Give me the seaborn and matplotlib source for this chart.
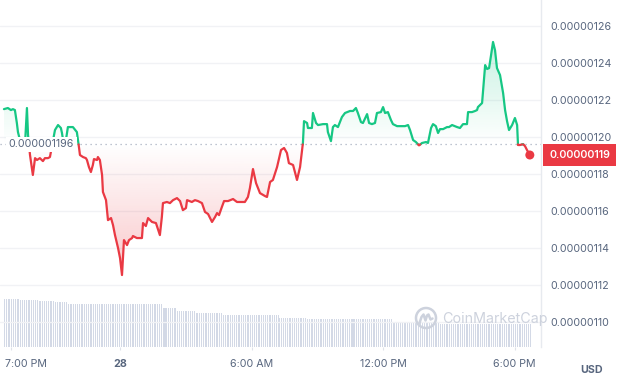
import numpy as np
import pandas as pd
import matplotlib
matplotlib.use("Agg")
import matplotlib.pyplot as plt
import matplotlib.transforms as mtransforms
from matplotlib.path import Path
from matplotlib.patches import Circle
from matplotlib.lines import Line2D
import seaborn as sns

# ---------------- data (price in units of 1e-8 USD, time in hours from midnight of the 27th) ----
hours = [18.68, 18.86, 19.00, 19.09, 19.18, 19.27, 19.32, 19.41, 19.55, 19.64, 19.73, 19.78, 19.87, 20.00,
         20.10, 20.19, 20.32, 20.46, 20.55, 20.69, 20.78, 21.01, 21.15, 21.28, 21.33, 21.42, 21.51, 21.60,
         21.83, 22.01, 22.11, 22.15, 22.29, 22.42, 22.47, 22.56, 22.65, 22.74, 22.79, 22.93, 22.97, 23.06,
         23.16, 23.20, 23.34, 23.43, 23.57, 23.66, 23.75, 23.89, 23.98, 24.07, 24.16, 24.30, 24.39, 24.53,
         24.57, 24.75, 24.98, 25.03, 25.16, 25.26, 25.44, 25.62, 25.80, 25.89, 25.94, 26.12, 26.26, 26.40,
         26.58, 26.72, 26.85, 26.99, 27.04, 27.26, 27.40, 27.54, 27.72, 27.86, 28.00, 28.18, 28.32, 28.41,
         28.50, 28.63, 28.73, 28.91, 29.14, 29.32, 29.68, 29.82, 29.91, 30.05, 30.19, 30.37, 30.60, 30.69,
         30.83, 30.96, 31.15, 31.33, 31.47, 31.60, 31.69, 31.88, 32.06, 32.20, 32.33, 32.38, 32.52, 32.56,
         32.74, 32.79, 32.93, 33.02, 33.25, 33.43, 33.47, 33.61, 33.70, 33.79, 33.93, 34.11, 34.25, 34.48,
         34.62, 34.75, 34.84, 34.98, 35.07, 35.26, 35.35, 35.48, 35.62, 35.71, 35.89, 35.99, 36.08, 36.21,
         36.35, 36.44, 36.63, 36.76, 36.99, 37.13, 37.22, 37.36, 37.49, 37.63, 37.77, 37.95, 38.04, 38.18,
         38.27, 38.40, 38.50, 38.59, 38.73, 38.91, 39.00, 39.14, 39.37, 39.50, 39.64, 39.82, 39.87, 40.05,
         40.19, 40.28, 40.32, 40.51, 40.65, 40.74, 40.83, 40.92, 41.01, 41.10, 41.19, 41.33, 41.47, 41.56,
         41.65, 41.74, 41.88, 42.01, 42.11, 42.15, 42.24, 42.38, 42.47, 42.56, 42.69]
price_e8 = [121.51, 121.57, 121.46, 121.51, 121.46, 120.76, 120.27, 119.84, 119.30, 119.57, 121.57, 120.11, 119.03, 117.95,
            118.86, 118.76, 118.86, 118.70, 118.86, 118.86, 118.92, 120.38, 120.65, 120.49, 120.22, 119.51, 119.84, 120.54,
            120.54, 120.27, 119.41, 119.03, 118.92, 118.86, 118.76, 118.38, 118.11, 118.49, 118.81, 118.76, 118.92, 118.76,
            117.95, 117.03, 116.59, 115.51, 115.62, 115.24, 114.70, 114.00, 113.46, 112.54, 114.43, 114.16, 114.43, 114.54,
            114.65, 114.54, 114.54, 115.35, 115.19, 115.62, 115.41, 115.35, 114.70, 115.68, 116.43, 116.49, 116.43, 116.59,
            116.70, 116.54, 116.05, 116.16, 116.59, 116.49, 116.59, 116.54, 116.43, 115.95, 115.84, 115.41, 115.68, 115.89,
            115.78, 116.22, 116.54, 116.54, 116.65, 116.49, 116.49, 116.76, 117.24, 118.27, 117.51, 116.97, 116.81, 116.76,
            117.57, 117.68, 118.38, 119.30, 119.41, 119.14, 118.59, 118.49, 117.68, 118.38, 119.68, 120.86, 120.76, 120.49,
            120.49, 121.30, 120.76, 120.65, 120.70, 120.70, 120.27, 119.78, 120.54, 120.65, 120.54, 121.08, 121.30, 121.41,
            121.41, 121.57, 121.30, 120.81, 120.76, 121.24, 120.76, 120.70, 120.76, 121.30, 121.35, 121.62, 121.30, 121.35,
            120.92, 120.70, 120.59, 120.59, 120.59, 120.65, 120.38, 119.84, 119.73, 119.55, 119.68, 119.73, 119.68, 120.49,
            120.70, 120.59, 120.22, 120.43, 120.43, 120.54, 120.54, 120.65, 120.54, 120.49, 120.70, 120.70, 121.35, 121.35,
            121.41, 121.46, 121.62, 121.84, 123.89, 123.68, 123.73, 124.43, 125.14, 124.70, 123.73, 123.35, 122.38, 121.46,
            120.86, 120.38, 120.65, 121.03, 120.65, 119.57, 119.57, 119.62, 119.51, 119.30, 119.03]
baseline_e8 = 119.6
baseline_label = "0.000001196"
last_label = "0.00000119"

# 24h volume (arbitrary units, millions USD), step levels and the hour each step starts
vol_step_start = [18.60, 19.37, 20.28, 20.96, 21.60, 22.93, 24.21, 25.94, 26.58, 27.40, 28.68, 31.28, 32.52, 36.40, 38.59]
vol_levels     = [4.80, 4.70, 4.60, 4.50, 4.35, 4.30, 4.35, 3.90, 3.60, 3.40, 3.20, 2.95, 2.80, 2.45, 2.35]

ytick_vals = [110, 112, 114, 116, 118, 120, 122, 124, 126]
ytick_labels = ["0.00000110", "0.00000112", "0.00000114", "0.00000116", "0.00000118",
                "0.00000120", "0.00000122", "0.00000124", "0.00000126"]
xtick_pos = [19, 24, 30, 36, 42]
xtick_labels = ["7:00 PM", "28", "6:00 AM", "12:00 PM", "6:00 PM"]

# ---------------- style ----------------
GREEN = "#16c784"
RED = "#ea3943"
GRAY = "#58667e"
sns.set_theme(style="white")
plt.rcParams["font.family"] = ["Inter", "DejaVu Sans"]

W, H = 624, 381
fig = plt.figure(figsize=(W / 100, H / 100), dpi=100)
rect = [0 / W, (H - 347) / H, 541 / W, 347 / H]

ax_v = fig.add_axes(rect, zorder=0)
ax = fig.add_axes(rect, zorder=1, sharex=ax_v)
ax.patch.set_alpha(0)

XMIN, XMAX = 18.50, 43.20
YMIN, YMAX = 108.65, 127.41

# ---------------- volume bars (5-minute bars) ----------------
vol_t = 18.70 + np.arange(289) / 12.0
idx = np.searchsorted(vol_step_start, vol_t, side="right") - 1
vol_h = np.array(vol_levels)[np.clip(idx, 0, len(vol_levels) - 1)]
sns.barplot(x=vol_t, y=vol_h, native_scale=True, width=0.55, color="#d3d9e6",
            edgecolor="none", linewidth=0, saturation=1, errorbar=None, ax=ax_v)
ax_v.set_ylim(0, 5.0 * 347 / 50)
ax_v.set_axis_off()

# ---------------- gradient fills ----------------
t = np.array(hours)
p = np.array(price_e8)
base = baseline_e8


def gradient_fill(above, color, extreme, amax):
    where = p >= base if above else p <= base
    coll = ax.fill_between(t, p, base, where=where, interpolate=True,
                           facecolor="none", edgecolor="none")
    comp = Path.make_compound_path(*coll.get_paths())
    n = 256
    rgba = np.zeros((n, 1, 4))
    rgba[..., :3] = matplotlib.colors.to_rgb(color)
    if above:
        y0, y1 = base, extreme
        rgba[:, 0, 3] = np.linspace(0.0, amax, n)
    else:
        y0, y1 = extreme, base
        rgba[:, 0, 3] = np.linspace(amax, 0.0, n)
    im = ax.imshow(rgba, extent=[t.min(), t.max(), y0, y1], origin="lower",
                   aspect="auto", zorder=2, interpolation="bilinear")
    im.set_clip_path(comp, ax.transData)


gradient_fill(True, GREEN, p.max(), 0.24)
gradient_fill(False, RED, p.min(), 0.28)

# ---------------- two-coloured price line ----------------
rows = []
seg = 0
side = p[0] >= base
cur = [(t[0], p[0])]
for i in range(1, len(t)):
    s = p[i] >= base
    if s != side:
        tc = t[i - 1] + (base - p[i - 1]) * (t[i] - t[i - 1]) / (p[i] - p[i - 1])
        cur.append((tc, base))
        rows += [(a, b, "up" if side else "down", seg) for a, b in cur]
        seg += 1
        cur = [(tc, base)]
        side = s
    cur.append((t[i], p[i]))
rows += [(a, b, "up" if side else "down", seg) for a, b in cur]
df = pd.DataFrame(rows, columns=["t", "p", "side", "seg"])
sns.lineplot(data=df, x="t", y="p", hue="side", units="seg", estimator=None, sort=False,
             palette={"up": GREEN, "down": RED}, legend=False, lw=1.6, ax=ax, zorder=4)
sns.scatterplot(x=[hours[-1]], y=[price_e8[-1]], color=RED, s=42, edgecolor="none",
                ax=ax, zorder=6, legend=False)

# baseline
ax.axhline(base, color="#a9b1c1", lw=0.9, ls=(0, (1, 3)), zorder=3)
ax.text(0.016, base, baseline_label, transform=mtransforms.blended_transform_factory(ax.transAxes, ax.transData),
        ha="left", va="center", fontsize=7.7, color=GRAY, zorder=5,
        bbox=dict(boxstyle="square,pad=0.25", facecolor="white", edgecolor="none"))

# ---------------- axes styling ----------------
ax.set_xlim(XMIN, XMAX)
ax_v.set_xlim(XMIN, XMAX)
ax.set_ylim(YMIN, YMAX)
ax.set_xlabel("")
ax.set_ylabel("")
ax.yaxis.tick_right()
ax.set_yticks(ytick_vals)
ax.set_yticklabels(ytick_labels)
ax.set_xticks(xtick_pos)
ax.set_xticklabels(xtick_labels)
ax.tick_params(axis="y", length=0, pad=6.5, labelsize=7.7, labelcolor=GRAY)
ax.tick_params(axis="x", length=2.5, width=0.8, color="#dfe3ea", pad=6, labelsize=7.7,
               labelcolor=GRAY, bottom=True)
xl = ax.get_xticklabels()
xl[1].set_fontweight("bold")
xl[0].set_horizontalalignment("left")
xl[0].set_transform(xl[0].get_transform() + mtransforms.ScaledTranslation(-6 / 100, 0, fig.dpi_scale_trans))
ax.grid(axis="y", color="#f1f2f5", lw=1)
ax.grid(axis="x", visible=False)
for s in ["top", "left", "bottom"]:
    ax.spines[s].set_visible(False)
ax.spines["right"].set_color("#e7eaef")
ax.spines["right"].set_linewidth(1)

# last price tag
ax.annotate(last_label, xy=(1.0, price_e8[-1]),
            xycoords=mtransforms.blended_transform_factory(ax.transAxes, ax.transData),
            xytext=(8, 0), textcoords="offset pixels", ha="left", va="center",
            fontsize=7.7, color="white", fontweight="semibold", zorder=7,
            bbox=dict(boxstyle="square,pad=0.55", facecolor=RED, edgecolor="none"))

# watermark (logo drawn as shapes, then the name)
WM = "#cdd2dd"
fig.patches.append(Circle((426, H - 318), 10, transform=None, facecolor="none",
                          edgecolor=WM, lw=1.8, zorder=10))
wave_x = np.array([-6.5, -4.5, -2.5, -0.5, 1.0, 2.5, 4.5, 6.5])
wave_y = np.array([-5.0, 1.0, 3.5, -2.5, 2.5, 3.5, -1.5, -0.5])
fig.lines.append(Line2D(426 + wave_x, H - 318 + wave_y, transform=None, color=WM, lw=1.8,
                        solid_joinstyle="round", solid_capstyle="round", zorder=10))
fig.text(442 / W, 1 - 319 / H, "CoinMarketCap", fontsize=10.3, color=WM, ha="left", va="center",
         zorder=10)

fig.text(592 / W, 1 - 370 / H, "USD", fontsize=7.7, color=GRAY, fontweight="bold", ha="center", va="center")

fig.savefig("out.png", dpi=100)
